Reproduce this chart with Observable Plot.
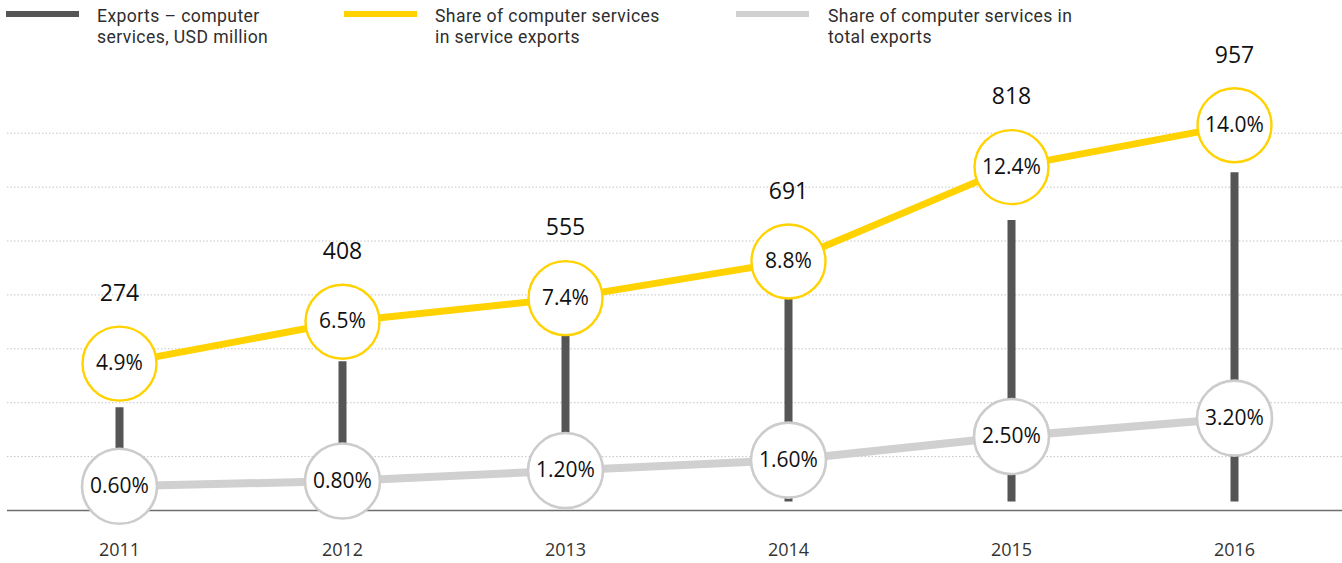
<!DOCTYPE html>
<html>
<head>
<meta charset="utf-8">
<script src="https://cdn.jsdelivr.net/npm/d3@7"></script>
<script src="https://cdn.jsdelivr.net/npm/@observablehq/plot@0.6"></script>
<style>
  html, body { margin: 0; padding: 0; background: #fff; }
  #wrap { position: relative; width: 1342px; height: 563px; font-family: "Open Sans", sans-serif; overflow: hidden; }
  #chart { position: absolute; left: 0; top: 0; }
  .sw { position: absolute; height: 6px; width: 73px; top: 11px; }
  .lt { position: absolute; font-family: Roboto, "Open Sans", sans-serif; font-size: 17.6px; letter-spacing: 0.4px; line-height: 21px; height: 21px; color: #2e2e2e; white-space: nowrap; }
  .l1 { top: 6px; }
  .l2 { top: 27px; }
</style>
</head>
<body>
<div id="wrap">
  <div id="chart"></div>
  <div class="sw" style="left:6px;background:#555555"></div>
  <div class="lt l1" style="left:97px">Exports – computer</div>
  <div class="lt l2" style="left:97px">services, USD million</div>
  <div class="sw" style="left:344px;background:#ffd200"></div>
  <div class="lt l1" style="left:435px">Share of computer services</div>
  <div class="lt l2" style="left:435px">in service exports</div>
  <div class="sw" style="left:736px;background:#d0d0d0"></div>
  <div class="lt l1" style="left:828px">Share of computer services in</div>
  <div class="lt l2" style="left:828px">total exports</div>
</div>
<script>
// ---- data ----
const years = ["2011", "2012", "2013", "2014", "2015", "2016"];
const exportsUSD = [274, 408, 555, 691, 818, 957];          // USD million
const shareService = [4.9, 6.5, 7.4, 8.8, 12.4, 14.0];      // % of service exports
const shareTotal = [0.60, 0.80, 1.20, 1.60, 2.50, 3.20];    // % of total exports

const data = years.map((y, i) => ({
  year: y,
  exports: exportsUSD[i],
  service: shareService[i],
  total: shareTotal[i]
}));

// exports are drawn on the same vertical axis as the shares (secondary axis ratio)
const usdPerPct = 76.16;
const yBase = -0.324;     // baseline of the plot area, in % units
const gridStep = 2.057;   // spacing of dotted gridlines, in % units
const gridLines = d3.range(1, 8).map(k => yBase + k * gridStep);

const chart = Plot.plot({
  width: 1342,
  height: 563,
  marginLeft: 7,
  marginRight: 0,
  marginTop: 0,
  marginBottom: 53,
  style: { fontFamily: "Open Sans, sans-serif", background: "white", overflow: "visible" },
  x: { type: "point", domain: years, range: [116.5, 1236], padding: 0, axis: null },
  y: { domain: [yBase, 19.14], axis: null },
  marks: [
    Plot.ruleY(gridLines, { stroke: "#c4c4c4", strokeWidth: 1, strokeDasharray: "1.5,2" }),
    Plot.ruleY([yBase], { stroke: "#6e6e6e", strokeWidth: 1.6 }),
    Plot.axisX({ tickSize: 0, tickPadding: 33, fontSize: 18, color: "#333", label: null }),
    Plot.ruleX(data, { x: "year", y1: 0, y2: d => d.exports / usdPerPct, stroke: "#555555", strokeWidth: 8 }),
    Plot.line(data, { x: "year", y: "total", stroke: "#d0d0d0", strokeWidth: 8 }),
    Plot.line(data, { x: "year", y: "service", stroke: "#ffd200", strokeWidth: 7, dy: -10 }),
    Plot.dot(data, { x: "year", y: "total", r: 37.5, fill: "white", stroke: "#cccccc", strokeWidth: 2.6 }),
    Plot.dot(data, { x: "year", y: "service", r: 37, fill: "white", stroke: "#ffd200", strokeWidth: 2.4, dy: -10 }),
    Plot.text(data, { x: "year", y: "total", text: d => d.total.toFixed(2) + "%", fontSize: 21, fill: "#111" }),
    Plot.text(data, { x: "year", y: "service", text: d => d.service.toFixed(1) + "%", fontSize: 21, fill: "#111", dy: -10 }),
    Plot.text(data, { x: "year", y: "service", text: d => String(d.exports), fontSize: 23, fill: "#111", dy: -80 })
  ]
});
document.getElementById("chart").appendChild(chart);
</script>
</body>
</html>
